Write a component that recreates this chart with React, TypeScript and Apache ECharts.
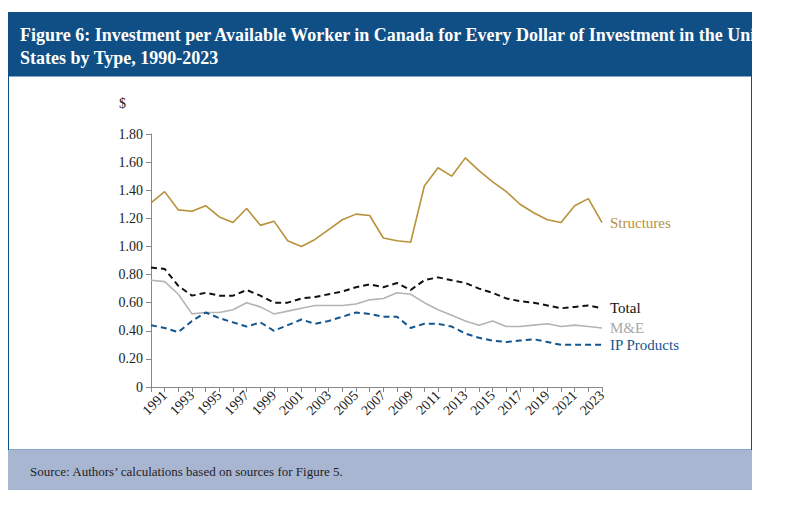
import React, { useEffect, useRef } from 'react';
import * as echarts from 'echarts';

const years = Array.from({ length: 34 }, (_, i) => String(1990 + i));
const structures = [1.31, 1.39, 1.26, 1.25, 1.29, 1.21, 1.17, 1.27, 1.15, 1.18, 1.04, 1.0, 1.05, 1.12, 1.19, 1.23, 1.22, 1.06, 1.04, 1.03, 1.43, 1.56, 1.5, 1.63, 1.54, 1.46, 1.39, 1.3, 1.24, 1.19, 1.17, 1.29, 1.34, 1.17];
const total = [0.85, 0.84, 0.72, 0.65, 0.67, 0.65, 0.65, 0.69, 0.65, 0.6, 0.6, 0.63, 0.64, 0.66, 0.68, 0.71, 0.73, 0.71, 0.74, 0.69, 0.76, 0.78, 0.76, 0.74, 0.7, 0.67, 0.63, 0.61, 0.6, 0.58, 0.56, 0.57, 0.58, 0.56];
const machinery = [0.76, 0.75, 0.66, 0.52, 0.53, 0.53, 0.55, 0.6, 0.57, 0.52, 0.54, 0.56, 0.58, 0.58, 0.58, 0.59, 0.62, 0.63, 0.67, 0.66, 0.6, 0.55, 0.51, 0.47, 0.44, 0.47, 0.43, 0.43, 0.44, 0.45, 0.43, 0.44, 0.43, 0.42];
const ipProducts = [0.44, 0.42, 0.39, 0.47, 0.53, 0.49, 0.46, 0.43, 0.46, 0.4, 0.44, 0.48, 0.45, 0.47, 0.5, 0.53, 0.52, 0.5, 0.5, 0.42, 0.45, 0.45, 0.43, 0.38, 0.35, 0.33, 0.32, 0.33, 0.34, 0.32, 0.3, 0.3, 0.3, 0.3];

const serif = '"Liberation Serif"';

const App: React.FC = () => {
  const chartRef = useRef<HTMLDivElement>(null);

  useEffect(() => {
    if (!chartRef.current) return;
    const chart = echarts.init(chartRef.current, undefined, { renderer: 'svg' });

    const line = (name: string, data: number[], color: string, dashed: boolean, labelColor: string) => ({
      name,
      type: 'line',
      data,
      symbol: 'none',
      lineStyle: { color, width: dashed ? 2 : 1.6, type: dashed ? [6, 4] : 'solid' },
      endLabel: {
        show: true,
        formatter: name,
        color: labelColor,
        fontFamily: serif,
        fontSize: 15,
        distance: 8,
      },
    });

    chart.setOption({
      animation: false,
      backgroundColor: '#ffffff',
      textStyle: { fontFamily: serif },
      graphic: [
        { type: 'rect', shape: { x: 0, y: 4, width: 744, height: 64 }, style: { fill: '#0f4f86' } },
        { type: 'rect', shape: { x: 0.5, y: 68, width: 743, height: 374 }, style: { fill: 'none', stroke: '#0f4f86', lineWidth: 1 } },
        { type: 'rect', shape: { x: 0, y: 442, width: 744, height: 40 }, style: { fill: '#a9b6d2' } },
        {
          type: 'text', x: 12, y: 15,
          style: { text: 'Figure 6: Investment per Available Worker in Canada for Every Dollar of Investment in the United\nStates by Type, 1990-2023', fill: '#ffffff', font: `bold 18px ${serif}`, lineHeight: 23 },
        },
        { type: 'text', x: 22, y: 457, style: { text: 'Source: Authors’ calculations based on sources for Figure 5.', fill: '#222', font: `13px ${serif}` } },
        { type: 'text', x: 111, y: 88, style: { text: '$', fill: '#222', font: `14px ${serif}` } },
      ],
      grid: { left: 143, right: 190, top: 126, bottom: 110 },
      xAxis: {
        type: 'category',
        data: years,
        boundaryGap: false,
        axisLine: { lineStyle: { color: '#888' } },
        axisTick: { show: true, interval: 0, lineStyle: { color: '#888' } },
        axisLabel: {
          interval: (i: number) => i % 2 === 1,
          rotate: 45,
          color: '#222',
          fontFamily: serif,
          fontSize: 14,
          margin: 6,
        },
      },
      yAxis: {
        type: 'value',
        min: 0,
        max: 1.8,
        interval: 0.2,
        splitLine: { show: false },
        axisLine: { show: true, lineStyle: { color: '#888' } },
        axisTick: { show: true, lineStyle: { color: '#888' } },
        axisLabel: {
          color: '#222',
          fontFamily: serif,
          fontSize: 14,
          formatter: (v: number) => (v === 0 ? '0' : v.toFixed(2)),
        },
      },
      series: [
        line('Structures', structures, '#b8923a', false, '#b8923a'),
        line('Total', total, '#111111', true, '#111111'),
        line('M&E', machinery, '#b4b4b4', false, '#a8a8a8'),
        line('IP Products', ipProducts, '#13558f', true, '#13558f'),
      ],
    });

    return () => chart.dispose();
  }, []);

  return <div ref={chartRef} style={{ width: 784, height: 489 }} />;
};

export default App;
